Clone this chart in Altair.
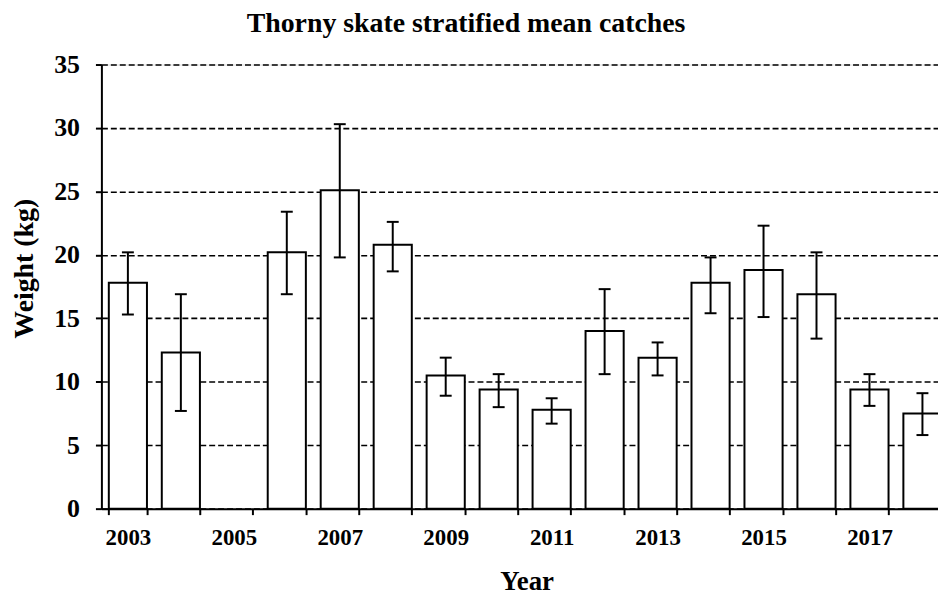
import altair as alt
import pandas as pd

all_years = list(range(2003, 2019))
years = [2003, 2004, 2006, 2007, 2008, 2009, 2010, 2011, 2012, 2013, 2014, 2015, 2016, 2017, 2018]
means = [17.8, 12.3, 20.2, 25.1, 20.8, 10.5, 9.4, 7.8, 14.0, 11.9, 17.8, 18.8, 16.9, 9.4, 7.5]
upper = [20.2, 16.9, 23.4, 30.3, 22.6, 11.9, 10.6, 8.7, 17.3, 13.1, 19.8, 22.3, 20.2, 10.6, 9.1]
lower = [15.3, 7.7, 16.9, 19.8, 18.7, 8.9, 8.0, 6.7, 10.6, 10.5, 15.4, 15.1, 13.4, 8.1, 5.8]
y_ticks = [0, 5, 10, 15, 20, 25, 30, 35]

df = pd.DataFrame({"year": years, "mean": means, "upper": upper, "lower": lower})

FONT = "Liberation Serif"
W, H = 842, 447

x_enc = alt.X(
    "year:O",
    scale=alt.Scale(domain=all_years, range=[0, 853], paddingInner=0.28, paddingOuter=0.14),
    axis=alt.Axis(
        title="Year",
        labelExpr="datum.value % 2 == 1 ? datum.label : ''",
        labelAngle=0,
        labelFont=FONT, labelFontSize=23, labelFontWeight="bold", labelColor="black",
        labelPadding=12,
        tickBand="extent", tickSize=6, tickWidth=2, tickColor="black",
        domainColor="black", domainWidth=2,
        titleFont=FONT, titleFontSize=27, titleFontWeight="bold", titleColor="black",
        titleBaseline="alphabetic", titleY=81, titleX=428,
        grid=False,
    ),
)

y_axis = alt.Axis(
    title="Weight (kg)",
    values=y_ticks,
    labelFont=FONT, labelFontSize=26, labelFontWeight="bold", labelColor="black",
    labelPadding=16,
    tickSize=6, tickWidth=2, tickColor="black",
    domainColor="black", domainWidth=2,
    grid=True, gridColor="black", gridDash=[6, 3], gridWidth=1.6, gridOpacity=1,
    titleFont=FONT, titleFontSize=28, titleFontWeight="bold", titleColor="black",
    titleBaseline="middle", titleX=-77, titleY=205,
)
y_scale = alt.Scale(domain=[0, 35], nice=False)

bars = alt.Chart(df).mark_bar(fill="white", stroke="black", strokeWidth=2).encode(
    x=x_enc,
    y=alt.Y("mean:Q", scale=y_scale, axis=y_axis),
)

rules = alt.Chart(df).mark_rule(color="black", strokeWidth=2).encode(
    x=x_enc,
    y=alt.Y("lower:Q", scale=y_scale, axis=y_axis),
    y2="upper:Q",
)

caps_hi = alt.Chart(df).mark_tick(color="black", thickness=2, size=12, opacity=1).encode(
    x=x_enc,
    y=alt.Y("upper:Q", scale=y_scale, axis=y_axis),
)
caps_lo = alt.Chart(df).mark_tick(color="black", thickness=2, size=12, opacity=1).encode(
    x=x_enc,
    y=alt.Y("lower:Q", scale=y_scale, axis=y_axis),
)

chart = alt.layer(bars, rules, caps_hi, caps_lo).properties(
    width=W,
    height=H,
    title=alt.TitleParams(
        "Thorny skate stratified mean catches",
        font=FONT, fontSize=28, fontWeight="bold", color="black",
        anchor="middle", frame="group", dx=-54, dy=28, baseline="alphabetic", offset=20,
    ),
    autosize=alt.AutoSizeParams(type="none"),
    padding={"left": 94, "top": 55, "right": 0, "bottom": 85},
).configure_view(stroke=None).configure(background="white")

chart.save("out.html", embed_options={"renderer": "svg", "actions": False})
